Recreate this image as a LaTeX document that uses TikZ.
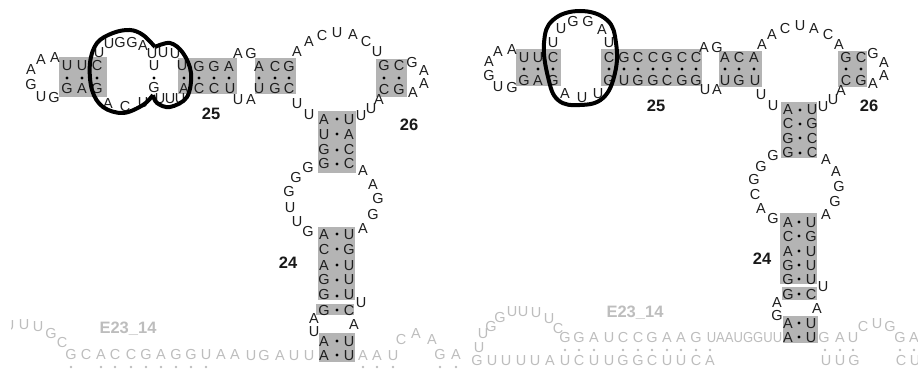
\documentclass[tikz,border=0pt]{standalone}
\usepackage{graphicx}
\usepackage{fontspec}
\setmainfont{Liberation Sans}
\definecolor{boxgray}{HTML}{B4B4B4}
\definecolor{fadegray}{HTML}{BDBDBD}
\definecolor{inkdark}{HTML}{1E1E1E}
\tikzset{
  base/.style={inner sep=0pt,outer sep=0pt,anchor=center,font=\fontsize{14.5}{14.5}\selectfont,text height=10.4pt,text depth=0pt},
  nt/.style={base,text=inkdark},
  ntgray/.style={base,text=fadegray},
  numlabel/.style={inner sep=0pt,font=\fontsize{16.5}{16.5}\selectfont\bfseries,text=black!90},
  nameLabel/.style={inner sep=0pt,font=\fontsize{16.5}{16.5}\selectfont\bfseries,text=fadegray},
  stembox/.style={fill=boxgray,draw=none},
  loopline/.style={draw=black,line width=4pt,line join=round}
}
\newcommand{\letters}[3]{\foreach \px/\py/\ch [count=\ci] in {#3} {\node[#1] (#2\ci) at (\px,\py) {\ch};}}
\begin{document}
\begin{tikzpicture}[x=1pt,y=-1pt]
\useasboundingbox (0,0) rectangle (918,371);
% ===== gray helix boxes, left
\fill[stembox] (59,57) rectangle (107,97);
\fill[stembox] (178,58) rectangle (237,94);
\fill[stembox] (255,58) rectangle (296,94);
\fill[stembox] (376,59) rectangle (407,97);
\fill[stembox] (318,111) rectangle (356,173);
\fill[stembox] (318,227) rectangle (355,300);
\fill[stembox] (316,304) rectangle (354,315);
\fill[stembox] (319,333) rectangle (355,362);
% ===== gray helix boxes, right
\fill[stembox] (516,49) rectangle (561,86);
\fill[stembox] (601,49) rectangle (702,86);
\fill[stembox] (719,51) rectangle (762,87);
\fill[stembox] (838,51) rectangle (867,87);
\fill[stembox] (781,102) rectangle (817,158);
\fill[stembox] (780,213) rectangle (817,284);
\fill[stembox] (782,287) rectangle (817,300);
\fill[stembox] (783,316) rectangle (818,343);
% ===== dots
\foreach \dx/\dy in {67/78,82/78,97/78,154/78,184/78,199/78,214/78,229/78,259/78,275/78,289/78,384/78,399/78,
  337/119,337/134,337/150,337/164,337/234,337/249,337/265,337/280,337/296,337/310,337/341,337/355,
  524/69,538/69,553/69,609/69,624/69,638/69,653/69,667/69,682/69,696/69,725/69,739/69,754/69,846/69,861/69,
  800/110,800/124,800/138,800/153,799/222,799/236,799/251,799/265,799/279,799/294,799/323,799/337}
  {\fill[black] (\dx,\dy) circle (1.6);}
\foreach \dx/\dy in {71/367,101/367,115/367,131/367,146/367,161/367,176/367,191/367,206/367,363/367,377/367,393/367,440/367,456/367,
  565/350,579/350,594/350,623/350,638/350,652/350,667/350,681/350,696/350,710/350,825/350,840/350,853/350,900/350,914/350}
  {\fill[fadegray] (\dx,\dy) circle (1.3);}
% ===== left structure letters
\letters{nt}{a}{31/69/A,41/59/A,55/57/A,31/84/G,41/96/U,54/97/G,
  67/65/U,82/65/U,97/65/C,67/88/G,82/88/A,97/88/G,
  99/52/U,109/43/U,120/42/G,132/42/G,143/45/A,152/53/U,163/52/U,175/53/U,
  154/65/U,182/65/U,199/66/G,214/66/G,229/66/A,154/87/G,184/88/A,199/88/C,214/88/C,230/88/U,
  108/103/A,125/106/C,143/102/U,160/98/U,170/98/U,180/98/U,
  238/53/A,251/53/G,259/66/A,275/66/C,289/66/G,259/88/U,275/88/G,289/88/C,238/99/U,251/99/A,
  297/51/A,309/41/A,322/35/C,337/32/U,353/34/A,366/41/C,377/51/U,
  384/65/G,399/65/C,384/89/C,399/89/G,412/62/G,424/70/A,424/83/A,413/92/A,379/99/A,371/108/U,361/115/U,297/103/U,309/114/U,
  324/119/A,349/119/U,324/134/U,349/134/A,324/149/G,349/149/C,324/163/G,349/163/C,
  308/167/G,296/177/G,289/191/G,363/170/A,373/184/A,378/198/G,
  290/207/U,297/221/U,308/231/G,373/214/G,363/228/A,
  324/234/A,349/234/U,324/249/C,349/249/G,324/265/A,349/265/U,324/279/G,349/279/U,324/294/G,349/294/U,
  324/310/G,349/310/C,361/302/U,314/318/A,314/331/U,354/324/A,324/341/A,349/341/U,324/355/A,349/355/U}
% ===== left faded letters
\begin{scope}
  \clip (11,300) rectangle (60,340);
  \node[ntgray] (clipU) at (9,325) {U};
\end{scope}
\letters{ntgray}{b}{24/324/U,38/326/U,51/333/G,62/342/C,
  71/354/G,86/354/C,101/354/A,115/354/C,131/354/C,146/354/G,161/354/A,176/354/G,191/354/G,206/354/U,221/354/A,235/354/A,
  251/355/U,264/355/G,280/355/A,294/355/U,309/355/U,363/355/A,377/355/A,393/355/U,
  401/339/C,416/333/A,432/339/A,440/354/G,456/354/A}
\node[nameLabel] (nameL) at (128,329) {E23\_14};
\node[numlabel] (n25L) at (211,114) {25};
\node[numlabel] (n26L) at (409,125) {26};
\node[numlabel] (n24L) at (288,263) {24};
% ===== right structure letters
\letters{nt}{c}{489/61/A,498/51/A,512/49/A,489/75/G,498/86/U,512/87/G,
  524/57/U,538/57/U,553/57/C,524/80/G,538/80/A,553/80/G,
  553/42/U,561/28/U,573/21/G,588/21/G,602/29/A,609/42/U,
  609/57/C,624/57/G,638/57/C,653/57/C,667/57/G,682/57/C,696/57/C,
  609/80/G,624/80/U,638/80/G,653/80/G,667/80/C,682/80/G,696/80/G,
  565/93/A,582/97/U,598/93/U,
  704/47/A,717/47/G,725/57/A,739/57/C,754/57/A,725/80/U,739/80/G,755/80/U,705/89/U,717/89/A,
  762/44/A,772/34/A,785/28/C,800/25/U,814/28/A,828/34/C,839/44/A,
  846/57/G,861/57/C,846/80/C,861/80/G,873/53/G,884/62/A,884/75/A,873/83/A,841/90/A,833/99/U,823/106/U,761/94/U,773/105/U,
  788/109/A,812/109/U,788/123/C,812/123/G,788/138/G,812/138/C,788/152/G,812/152/C,
  773/155/G,761/166/G,754/179/G,755/194/C,826/159/A,836/171/A,839/186/G,835/201/G,
  761/208/A,773/218/G,826/214/A,
  788/222/A,811/222/U,788/236/C,811/236/G,788/251/A,811/251/U,788/265/G,811/265/U,788/279/G,811/279/U,
  788/294/G,811/294/C,823/286/U,777/302/A,777/315/G,817/308/A,788/323/A,811/323/U,788/337/A,811/337/U}
% ===== right faded letters
\letters{ntgray}{d}{479/347/U,483/333/U,491/326/G,500/317/G,512/311/U,523/311/U,536/312/U,549/318/U,558/328/C,
  565/337/G,579/337/G,594/337/A,609/337/U,623/337/C,638/337/C,652/337/G,667/337/A,681/337/A,696/337/G,
  477/360/G,492/360/U,506/360/U,521/360/U,535/360/U,550/360/A,565/360/U,579/360/C,594/360/U,609/360/U,623/360/G,638/360/G,652/360/C,667/360/U,681/360/U,696/360/C,710/360/A,
  824/337/G,840/337/A,853/337/U,863/326/C,877/323/U,890/326/G,900/337/G,914/337/A,
  826/360/U,840/360/U,854/360/G,901/360/C,915/360/U}
\node[ntgray] (strip) at (744.5,337) {\scalebox{0.9}[1]{UAAUGGUU}};
\node[nameLabel] (nameR) at (635,313) {E23\_14};
\node[numlabel] (n25R) at (656,106) {25};
\node[numlabel] (n26R) at (869,106) {26};
\node[numlabel] (n24R) at (762,259) {24};
% ===== hand-drawn loops
\draw[loopline] plot[smooth,tension=0.6] coordinates {(153,95) (143,105) (123,113) (103,107) (92,90) (90,63) (97,43) (113,33) (130,30) (143,35) (155,47)};
\draw[loopline] plot[smooth,tension=0.6] coordinates {(155,47) (170,43) (183,53) (191,73) (187,97) (170,107) (157,103) (153,95)};
\draw[loopline] plot[smooth cycle,tension=0.7] coordinates {(580,11) (607,20) (616,43) (615,73) (603,98) (580,105) (558,100) (548,77) (544,43) (553,20)};
\end{tikzpicture}
\end{document}
